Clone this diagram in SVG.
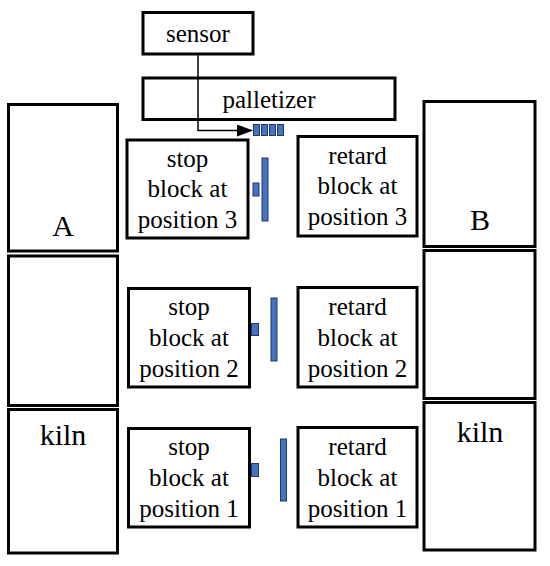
<svg xmlns="http://www.w3.org/2000/svg" width="550" height="566" viewBox="0 0 550 566">
<defs>
<marker id="arr" markerWidth="16" markerHeight="12" refX="15" refY="6" orient="auto" markerUnits="userSpaceOnUse">
<path d="M0,0 L16,6 L0,12 Z" fill="#000"/>
</marker>
</defs>
<rect width="550" height="566" fill="#fff"/>
<g id="kilnA">
<g fill="#fff" stroke="#000" stroke-width="3">
<rect x="8.5" y="104.5" width="109" height="146.5"/>
<rect x="8.5" y="256" width="109" height="149.5"/>
<rect x="8.5" y="409.5" width="109" height="143.5"/>
</g>
<text font-family="Liberation Serif" font-size="30" text-anchor="middle" x="63" y="236">A</text>
<text font-family="Liberation Serif" font-size="30" text-anchor="middle" x="63" y="445">kiln</text>
</g>
<g id="kilnB">
<g fill="#fff" stroke="#000" stroke-width="3">
<rect x="424" y="101.5" width="111" height="145"/>
<rect x="424" y="250.5" width="111" height="148"/>
<rect x="424" y="402.5" width="111" height="147.5"/>
</g>
<text font-family="Liberation Serif" font-size="30" text-anchor="middle" x="480" y="230">B</text>
<text font-family="Liberation Serif" font-size="30" text-anchor="middle" x="480" y="442">kiln</text>
</g>
<g id="sensor">
<rect fill="#fff" stroke="#000" stroke-width="3" x="143" y="12.5" width="110" height="41.5"/>
<text font-family="Liberation Serif" font-size="25" text-anchor="middle" x="198" y="42">sensor</text>
</g>
<g id="palletizer">
<rect fill="#fff" stroke="#000" stroke-width="3" x="143" y="78" width="252" height="41.5"/>
<text font-family="Liberation Serif" font-size="25" text-anchor="middle" x="269" y="108">palletizer</text>
</g>
<g id="connectors">
<path fill="none" stroke="#000" stroke-width="1.5" d="M198,54 V130.5 H252" marker-end="url(#arr)"/>
</g>
<g id="pallets" fill="#4472c4" stroke="#1f3864" stroke-width="1">
<rect x="253.5" y="124.5" width="6" height="11"/>
<rect x="261.5" y="124.5" width="6" height="11"/>
<rect x="269.5" y="124.5" width="6" height="11"/>
<rect x="277.5" y="124.5" width="6" height="11"/>
</g>
<g id="stop3">
<rect fill="#fff" stroke="#000" stroke-width="3" x="127" y="140" width="121" height="98"/>
<g font-family="Liberation Serif" font-size="25" text-anchor="middle">
<text x="187.5" y="167">stop</text>
<text x="187.5" y="197">block at</text>
<text x="187.5" y="228">position 3</text>
</g>
</g>
<g id="retard3">
<rect fill="#fff" stroke="#000" stroke-width="3" x="298" y="136.5" width="119" height="99.5"/>
<g font-family="Liberation Serif" font-size="25" text-anchor="middle">
<text x="357.5" y="164">retard</text>
<text x="357.5" y="194">block at</text>
<text x="357.5" y="225">position 3</text>
</g>
</g>
<g id="blocks3" fill="#4472c4" stroke="#1f3864" stroke-width="1">
<rect x="253" y="183" width="6" height="13"/>
<rect x="262" y="158" width="6" height="63"/>
</g>
<g id="stop2">
<rect fill="#fff" stroke="#000" stroke-width="3" x="128.5" y="288.5" width="121" height="98.5"/>
<g font-family="Liberation Serif" font-size="25" text-anchor="middle">
<text x="189" y="315">stop</text>
<text x="189" y="346">block at</text>
<text x="189" y="377">position 2</text>
</g>
</g>
<g id="retard2">
<rect fill="#fff" stroke="#000" stroke-width="3" x="298" y="287.5" width="119" height="99.5"/>
<g font-family="Liberation Serif" font-size="25" text-anchor="middle">
<text x="357.5" y="315">retard</text>
<text x="357.5" y="346">block at</text>
<text x="357.5" y="377">position 2</text>
</g>
</g>
<g id="blocks2" fill="#4472c4" stroke="#1f3864" stroke-width="1">
<rect x="251.5" y="323.5" width="7" height="12"/>
<rect x="271" y="298" width="6" height="63"/>
</g>
<g id="stop1">
<rect fill="#fff" stroke="#000" stroke-width="3" x="128.5" y="428.5" width="121" height="98.5"/>
<g font-family="Liberation Serif" font-size="25" text-anchor="middle">
<text x="189" y="455">stop</text>
<text x="189" y="486">block at</text>
<text x="189" y="517">position 1</text>
</g>
</g>
<g id="retard1">
<rect fill="#fff" stroke="#000" stroke-width="3" x="298" y="427.5" width="119" height="99.5"/>
<g font-family="Liberation Serif" font-size="25" text-anchor="middle">
<text x="357.5" y="455">retard</text>
<text x="357.5" y="486">block at</text>
<text x="357.5" y="517">position 1</text>
</g>
</g>
<g id="blocks1" fill="#4472c4" stroke="#1f3864" stroke-width="1">
<rect x="251.5" y="463.5" width="7" height="13"/>
<rect x="280.5" y="439" width="6" height="62"/>
</g>
</svg>
